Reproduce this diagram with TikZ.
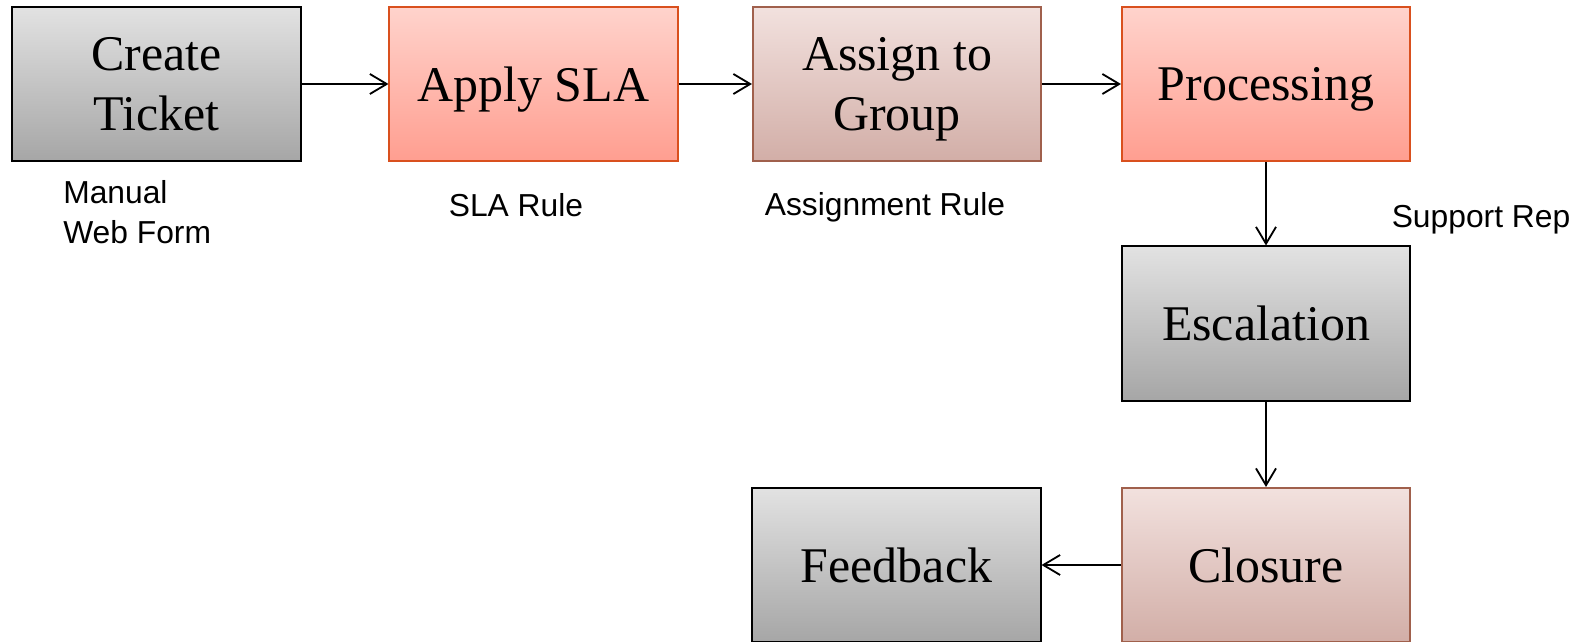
\documentclass[tikz,border=0pt]{standalone}
\usepackage{fontspec}
\setmainfont{Liberation Serif}
\newfontfamily\labelfont{Liberation Sans}
\usetikzlibrary{arrows.meta}
\definecolor{greytop}{HTML}{E2E2E2}
\definecolor{greybot}{HTML}{A6A6A6}
\definecolor{pinktop}{HTML}{FFD3CC}
\definecolor{pinkbot}{HTML}{FF9E90}
\definecolor{pinkline}{HTML}{D9501E}
\definecolor{browntop}{HTML}{F2E1DE}
\definecolor{brownbot}{HTML}{D2AEA7}
\definecolor{brownline}{HTML}{A0604C}
\tikzset{
  stage/.style={draw, line width=1.4pt, minimum width=7.2cm, minimum height=3.85cm,
    align=center, inner sep=0pt, text depth=0pt, font=\fontsize{35.5}{43}\selectfont},
  greystage/.style={stage, draw=black, top color=greytop, bottom color=greybot},
  pinkstage/.style={stage, draw=pinkline, top color=pinktop, bottom color=pinkbot},
  brownstage/.style={stage, draw=brownline, top color=browntop, bottom color=brownbot},
  note/.style={font=\labelfont\fontsize{22.6}{28.5}\selectfont, inner sep=0pt},
  flow/.style={-{Straight Barb[length=0.42cm,width=0.5cm]}, line width=1.3pt}
}
\begin{document}
\begin{tikzpicture}[x=0.025cm,y=-0.025cm]
\useasboundingbox (0,0) rectangle (1580,642);
% top row
\node[greystage] (create) at (156.5,84) {Create\\Ticket};
\node[pinkstage] (sla) at (533.5,84) {Apply SLA};
\node[brownstage] (assign) at (897,84) {Assign to\\Group};
\node[pinkstage] (proc) at (1266,84) {Processing};
% right column and bottom row
\node[greystage] (esc) at (1266,323.5) {Escalation};
\node[brownstage] (clos) at (1266,565) {Closure};
\node[greystage] (feed) at (896.5,565) {Feedback};
% notes
\node[note, anchor=west, align=left] (manual) at (63,212) {Manual\\Web Form};
\node[note] (slarule) at (516,205) {SLA Rule};
\node[note] (assignrule) at (885,207) {Assignment Rule};
\node[note] (rep) at (1481,220) {Support Rep};
% connectors
\draw[flow] (create) -- (sla);
\draw[flow] (sla) -- (assign);
\draw[flow] (assign) -- (proc);
\draw[flow] (proc) -- (esc);
\draw[flow] (esc) -- (clos);
\draw[flow] (clos) -- (feed);
\end{tikzpicture}
\end{document}
